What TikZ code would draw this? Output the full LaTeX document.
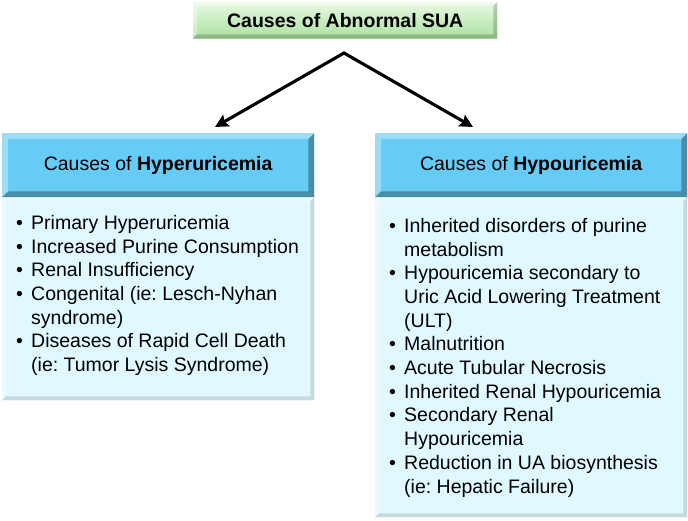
\documentclass[tikz,border=0pt]{standalone}
\usepackage{fontspec}
\setmainfont{Liberation Sans}
\usetikzlibrary{arrows.meta, positioning}

\definecolor{headblue}{RGB}{102,204,245}
\definecolor{bodycyan}{RGB}{224,248,255}
\definecolor{titlegreen}{RGB}{170,225,160}
\definecolor{titlelight}{RGB}{232,249,226}

% bevelled edge: light top/left, dark right/bottom
\newcommand{\bevelbox}[3]{%
  \fill[white,opacity=.35] (#1.south west) -- (#1.north west) -- (#1.north east)
    -- ([shift={(-#2,-#2)}]#1.north east) -- ([shift={(#2,-#2)}]#1.north west)
    -- ([shift={(#2,#2)}]#1.south west) -- cycle;
  \fill[black,opacity=#3] (#1.south west) -- (#1.south east) -- (#1.north east)
    -- ([shift={(-#2,-#2)}]#1.north east) -- ([shift={(-#2,#2)}]#1.south east)
    -- ([shift={(#2,#2)}]#1.south west) -- cycle;
}
\newcommand{\bitem}{\makebox[15pt][l]{\textbullet}}
\newcommand{\bcont}{\hspace*{15pt}}

\begin{document}
\frenchspacing
\begin{tikzpicture}[
    x=1pt, y=1pt,
    title/.style={rectangle, anchor=north west, inner sep=0pt, minimum width=304pt, minimum height=36pt,
      top color=titlelight, bottom color=titlegreen, font=\fontsize{19.5}{23}\selectfont\bfseries},
    header/.style={rectangle, anchor=north west, inner sep=0pt, minimum width=312pt, minimum height=64pt,
      fill=headblue, font=\fontsize{19.5}{23}\selectfont},
    listbox/.style={rectangle, anchor=north west, inner sep=0pt, minimum width=312pt, fill=bodycyan},
    listtext/.style={anchor=north west, inner sep=0pt, align=left, font=\fontsize{19.5}{23.7}\selectfont},
    arrow/.style={{Stealth[length=13pt, width=13pt, inset=2pt]}-{Stealth[length=13pt, width=13pt, inset=2pt]},
      line width=3.1pt, line join=miter}
]
    \useasboundingbox (0,0) rectangle (688,-520);

    \node[title] (sua) at (193,-2) {Causes of Abnormal SUA};
    \bevelbox{sua}{4pt}{.18}

    \node[header] (hyperhead) at (2,-133) {Causes of \textbf{Hyperuricemia}};
    \node[listbox, minimum height=203pt] (hyperbody) at (2,-197) {};
    \node[header] (hypohead) at (375,-133) {Causes of \textbf{Hypouricemia}};
    \node[listbox, minimum height=320pt] (hypobody) at (375,-197) {};
    \bevelbox{hyperhead}{6pt}{.30}
    \bevelbox{hypohead}{6pt}{.30}
    \bevelbox{hyperbody}{4pt}{.12}
    \bevelbox{hypobody}{4pt}{.12}

    \node[listtext] (hyperlist) at (16,-215) {%
      \bitem Primary Hyperuricemia\\
      \bitem Increased Purine Consumption\\
      \bitem Renal Insufficiency\\
      \bitem Congenital (ie: Lesch-Nyhan\\
      \bcont syndrome)\\
      \bitem Diseases of Rapid Cell Death\\
      \bcont (ie: Tumor Lysis Syndrome)};

    \node[listtext] (hypolist) at (389,-218) {%
      \bitem Inherited disorders of purine\\
      \bcont metabolism\\
      \bitem Hypouricemia secondary to\\
      \bcont Uric Acid Lowering Treatment\\
      \bcont (ULT)\\
      \bitem Malnutrition\\
      \bitem Acute Tubular Necrosis\\
      \bitem Inherited Renal Hypouricemia\\
      \bitem Secondary Renal\\
      \bcont Hypouricemia\\
      \bitem Reduction in UA biosynthesis\\
      \bcont (ie: Hepatic Failure)};

    \coordinate (apex) at (344,-53);
    \coordinate (hypertip) at (215,-127);
    \coordinate (hypotip) at (473,-127);
    \draw[arrow] (hypertip) -- (apex) -- (hypotip);
\end{tikzpicture}
\end{document}
